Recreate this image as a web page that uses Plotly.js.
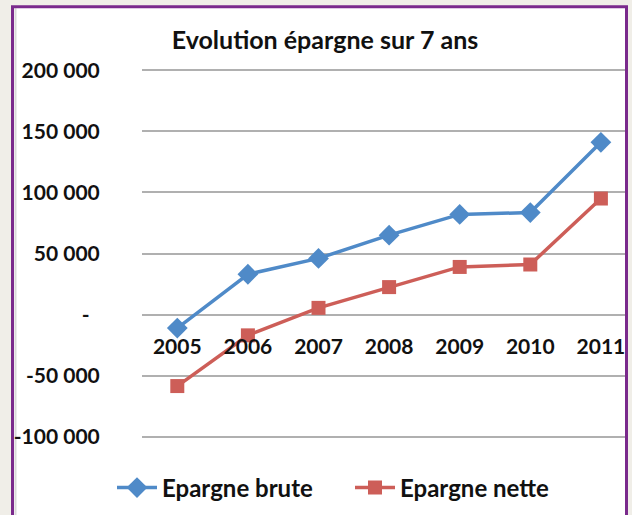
<!DOCTYPE html>
<html>
<head>
<meta charset="utf-8">
<script src="https://cdn.plot.ly/plotly-3.0.1.min.js"></script>
<style>
html,body{margin:0;padding:0;background:#f0eee8;}
#chart{width:632px;height:515px;}
</style>
</head>
<body>
<div id="chart"></div>
<script>
// ---- data ----
const years = ['2005', '2006', '2007', '2008', '2009', '2010', '2011'];
const brute = [-11000, 33000, 46000, 65000, 82000, 83500, 141000];
const nette = [-58500, -17000, 5500, 22500, 39000, 41000, 95000];
const yTickVals = [-100000, -50000, 0, 50000, 100000, 150000, 200000];
const yTickText = ['-100 000', '-50 000', '-\u00a0\u00a0', '50 000', '100 000', '150 000', '200 000'];
const seriesNames = ['Epargne brute', 'Epargne nette'];
const chartTitle = 'Evolution épargne sur 7 ans';

// ---- styling ----
const FONT = 'Lato, "Open Sans", sans-serif';
const BLUE = '#4f8ac8';
const RED = '#cd5e58';
const PURPLE = '#7a2a8c';

const traces = [
  {
    x: years, y: brute, name: seriesNames[0], type: 'scatter', mode: 'lines+markers',
    line: {color: BLUE, width: 3.5},
    marker: {symbol: 'diamond', size: 16, color: BLUE}
  },
  {
    x: years, y: nette, name: seriesNames[1], type: 'scatter', mode: 'lines+markers',
    line: {color: RED, width: 3.5},
    marker: {symbol: 'square', size: 14, color: RED}
  }
];

// plot area: x 142..626 px, y ~69..439 px
const L = 142, R = 6, T = 69, B = 76;
const W = 632, H = 515;
const pw = W - L - R, ph = H - T - B;
const px = v => (v - L) / pw;          // page px -> paper x
const py = v => (H - B - v) / ph;      // page px -> paper y

const layout = {
  width: W, height: H,
  margin: {l: L, r: R, t: T, b: B, pad: 0},
  paper_bgcolor: '#f0eee8',
  plot_bgcolor: 'rgba(0,0,0,0)',
  font: {family: FONT, size: 21, color: '#111', weight: 'bold'},
  title: {
    text: chartTitle, xref: 'container', yref: 'container',
    x: 325 / W, xanchor: 'center', y: 1 - 40 / H, yanchor: 'middle',
    font: {family: FONT, size: 25, color: '#111', weight: 'bold'}
  },
  showlegend: true,
  legend: {
    orientation: 'h', x: px(112), xanchor: 'left', y: py(488), yanchor: 'middle',
    font: {family: FONT, size: 24, color: '#111', weight: 'bold'},
    bgcolor: 'rgba(0,0,0,0)', itemwidth: 40, entrywidth: 183, tracegroupgap: 0
  },
  xaxis: {
    type: 'category', range: [-0.5, -0.5 + pw / 70.6],
    anchor: 'free', position: py(333),
    showgrid: false, zeroline: false, showline: false, ticks: '',
    tickfont: {family: FONT, size: 21, color: '#111', weight: 'bold'},
    fixedrange: true
  },
  yaxis: {
    range: [-101000, 201000],
    tickvals: yTickVals, ticktext: yTickText,
    showgrid: true, gridcolor: '#b0b0b0', gridwidth: 2,
    zeroline: false, showline: false,
    ticks: 'outside', ticklen: 37, tickcolor: 'rgba(0,0,0,0)',
    tickfont: {family: FONT, size: 21, color: '#111', weight: 'bold'},
    fixedrange: true
  },
  shapes: [
    {type: 'rect', xref: 'paper', yref: 'paper', layer: 'below',
     x0: px(12.5), x1: px(626.5), y0: py(530), y1: py(6.5),
     fillcolor: '#ffffff', line: {width: 0}},
    {type: 'line', xref: 'paper', yref: 'paper', layer: 'below',
     x0: px(15.5), x1: px(15.5), y0: py(530), y1: py(8),
     line: {color: '#d9d9d9', width: 2}},
    {type: 'rect', xref: 'paper', yref: 'paper', layer: 'above',
     x0: px(12.5), x1: px(626.5), y0: py(530), y1: py(6.5),
     fillcolor: 'rgba(0,0,0,0)', line: {color: PURPLE, width: 3}}
  ]
};

Plotly.newPlot('chart', traces, layout, {displayModeBar: false, staticPlot: true});
</script>
</body>
</html>
